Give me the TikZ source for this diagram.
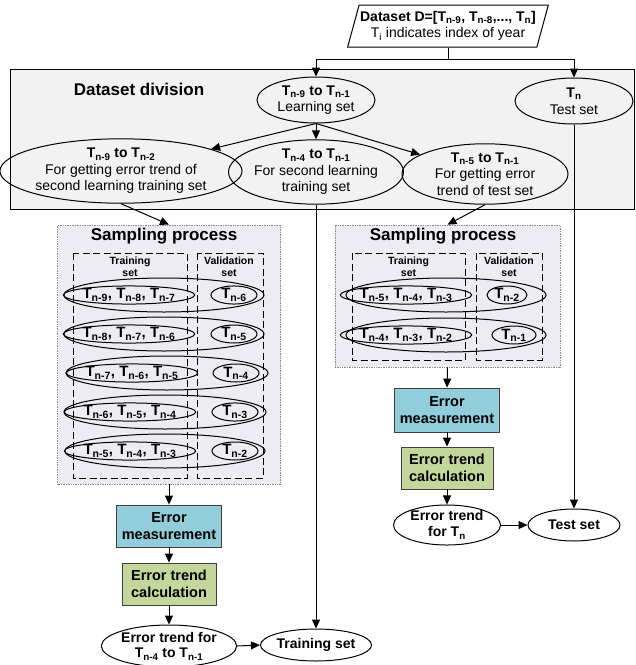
\documentclass[tikz,border=0pt]{standalone}
\usepackage{fontspec}
\setmainfont{Liberation Sans}
\usetikzlibrary{shapes.geometric,arrows.meta}

\definecolor{divgray}{HTML}{F2F2F2}
\definecolor{sampfill}{HTML}{EEECF3}
\definecolor{errblue}{HTML}{92CDDC}
\definecolor{trendgreen}{HTML}{C3D69B}

\newcommand{\Tsub}[1]{T\textsubscript{#1}}

\tikzset{
  set/.style={draw,ellipse,inner sep=0pt,align=center},
  boldset/.style={set,font=\fontsize{14}{16}\selectfont\bfseries},
  proc/.style={draw=black!75,line width=0.8pt,inner sep=0pt,align=center,
               font=\fontsize{14.5}{17}\selectfont\bfseries},
  sampbox/.style={draw=black!45,densely dotted,line width=0.7pt,fill=sampfill,inner sep=0pt},
  part/.style={dashed,dash pattern=on 7pt off 3.5pt,line width=0.8pt},
  head/.style={font=\fontsize{17}{19}\selectfont\bfseries},
  small/.style={font=\fontsize{10.5}{12}\selectfont\bfseries,align=center},
  row/.style={set,font=\fontsize{15}{17}\selectfont\bfseries}
}

\begin{document}
\begin{tikzpicture}[x=1pt,y=-1pt,line width=1pt,
    >={Triangle[length=9pt,width=8pt]},font=\fontsize{14}{16.5}\selectfont]
  \useasboundingbox (0,0) rectangle (636,665);

  % input data
  \node[draw,trapezium,trapezium left angle=70,trapezium right angle=110,
        trapezium stretches body,minimum width=180pt,minimum height=42pt,
        inner sep=1pt,align=center] (data) at (448,26)
        {\textbf{Dataset D=[\Tsub{n-9}, \Tsub{n-8},..., \Tsub{n}]}\\\Tsub{i} indicates index of year};

  % dataset division
  \draw[fill=divgray] (10,69) rectangle (634,209);
  \node[head] (divtitle) at (139,89) {Dataset division};
  \node[set,minimum width=118pt,minimum height=46pt] (learn) at (316,100)
        {\textbf{\Tsub{n-9} to \Tsub{n-1}}\\Learning set};
  \node[set,minimum width=118pt,minimum height=46pt] (test) at (574,101)
        {\textbf{\Tsub{n}}\\Test set};
  \node[set,minimum width=218pt,minimum height=58pt] (trendtrain) at (121,171)
        {\textbf{\Tsub{n-9} to \Tsub{n-2}}\\For getting error trend of\\second learning training set};
  \node[set,minimum width=158pt,minimum height=58pt] (secondtrain) at (316,172)
        {\textbf{\Tsub{n-4} to \Tsub{n-1}}\\For second learning\\training set};
  \node[set,minimum width=166pt,minimum height=56pt] (trendtest) at (485,174)
        {\textbf{\Tsub{n-5} to \Tsub{n-1}}\\For getting error\\trend of test set};

  \coordinate (split) at (data.south |- 0,59);
  \draw (data.south) -- (split);
  \draw[->] (split) -| (learn.north);
  \draw[->] (split) -| (test.north);
  \draw[->] (learn.south) -- (trendtrain);
  \draw[->] (learn.south) -- (secondtrain.north);
  \draw[->] (learn.south) -- (trendtest);

  % sampling of the second learning training set
  \node[sampbox,minimum width=223pt,minimum height=259pt] (samp1) at (169,354.5) {};
  \node[head] at (164,236) {Sampling process};
  \draw[part] (73,253) rectangle (187,478);
  \draw[part] (197,253) rectangle (263,478);
  \node[small] at (130,267) {Training\\set};
  \node[small] at (229,267) {Validation\\set};
  \node[set,minimum width=200pt,minimum height=34pt] (r1) at (164,295) {};
  \node[row,minimum width=114pt,minimum height=18pt] (tr1) at (129,295) {\Tsub{n-9}, \Tsub{n-8}, \Tsub{n-7}};
  \node[row,minimum width=46pt,minimum height=18pt] (va1) at (234,295) {\Tsub{n-6}};
  \node[set,minimum width=200pt,minimum height=34pt] (r2) at (164,334) {};
  \node[row,minimum width=114pt,minimum height=18pt] (tr2) at (129,334) {\Tsub{n-8}, \Tsub{n-7}, \Tsub{n-6}};
  \node[row,minimum width=46pt,minimum height=18pt] (va2) at (234,334) {\Tsub{n-5}};
  \node[set,minimum width=202pt,minimum height=34pt] (r3) at (167,373) {};
  \node[row,minimum width=114pt,minimum height=18pt] (tr3) at (132,373) {\Tsub{n-7}, \Tsub{n-6}, \Tsub{n-5}};
  \node[row,minimum width=46pt,minimum height=18pt] (va3) at (236,373) {\Tsub{n-4}};
  \node[set,minimum width=202pt,minimum height=34pt] (r4) at (165,412) {};
  \node[row,minimum width=114pt,minimum height=18pt] (tr4) at (130,412) {\Tsub{n-6}, \Tsub{n-5}, \Tsub{n-4}};
  \node[row,minimum width=46pt,minimum height=18pt] (va4) at (235,412) {\Tsub{n-3}};
  \node[set,minimum width=200pt,minimum height=34pt] (r5) at (165,451) {};
  \node[row,minimum width=114pt,minimum height=18pt] (tr5) at (130,451) {\Tsub{n-5}, \Tsub{n-4}, \Tsub{n-3}};
  \node[row,minimum width=46pt,minimum height=18pt] (va5) at (235,451) {\Tsub{n-2}};

  % sampling of the test trend set
  \node[sampbox,minimum width=225pt,minimum height=142pt] (samp2) at (447.5,296) {};
  \node[head] at (443,236) {Sampling process};
  \draw[part] (352,253) rectangle (465,360);
  \draw[part] (476,253) rectangle (542,360);
  \node[small] at (408.5,267) {Training\\set};
  \node[small] at (509,267) {Validation\\set};
  \node[set,minimum width=200pt,minimum height=34pt] (q1) at (446,295) {};
  \node[row,minimum width=112pt,minimum height=18pt] (tq1) at (406,295) {\Tsub{n-5}, \Tsub{n-4}, \Tsub{n-3}};
  \node[row,minimum width=40pt,minimum height=18pt] (vq1) at (507,295) {\Tsub{n-2}};
  \node[set,minimum width=200pt,minimum height=34pt] (q2) at (446,335) {};
  \node[row,minimum width=112pt,minimum height=18pt] (tq2) at (406,335) {\Tsub{n-4}, \Tsub{n-3}, \Tsub{n-2}};
  \node[row,minimum width=44pt,minimum height=18pt] (vq2) at (514,335) {\Tsub{n-1}};

  \draw[->] (trendtrain.south) -- (samp1.north);
  \draw[->] (trendtest.south) -- (samp2.north);

  % left column
  \node[proc,fill=errblue,minimum width=105pt,minimum height=42pt] (errL) at (169,526) {Error\\measurement};
  \node[proc,fill=trendgreen,minimum width=94pt,minimum height=42pt] (calcL) at (169,584) {Error trend\\calculation};
  \node[boldset,minimum width=125pt,minimum height=42pt] (outL) at (169,646) {Error trend for\\\Tsub{n-4} to \Tsub{n-1}};
  \node[boldset,minimum width=110pt,minimum height=32pt] (trainset) at (316,645) {Training set};
  \draw[->] (samp1.south) -- (errL.north);
  \draw[->] (errL.south) -- (calcL.north);
  \draw[->] (calcL.south) -- (outL.north);
  \draw[->] (outL.east) -- (trainset.west);
  \draw[->] (secondtrain.south) -- (trainset.north);

  % right column
  \node[proc,fill=errblue,minimum width=105pt,minimum height=44pt] (errR) at (447,410) {Error\\measurement};
  \node[proc,fill=trendgreen,minimum width=92pt,minimum height=42pt] (calcR) at (447,468) {Error trend\\calculation};
  \node[boldset,minimum width=107pt,minimum height=36pt] (outR) at (447,525) {Error trend\\for \Tsub{n}};
  \node[boldset,minimum width=92pt,minimum height=32pt] (testset) at (574,525) {Test set};
  \draw[->] (samp2.south) -- (errR.north);
  \draw[->] (errR.south) -- (calcR.north);
  \draw[->] (calcR.south) -- (outR.north);
  \draw[->] (outR.east) -- (testset.west);
  \draw[->] (test.south) -- (testset.north);
\end{tikzpicture}
\end{document}
